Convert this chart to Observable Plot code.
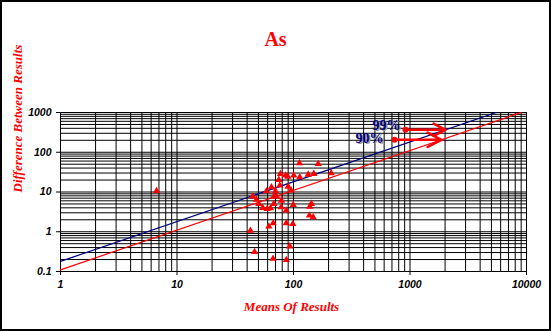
<!DOCTYPE html>
<html>
<head>
<meta charset="utf-8">
<script src="https://cdn.jsdelivr.net/npm/d3@7"></script>
<script src="https://cdn.jsdelivr.net/npm/@observablehq/plot@0.6"></script>
<style>
  html, body { margin: 0; padding: 0; background: #fff; }
  #wrap { position: relative; width: 551px; height: 331px; overflow: hidden; }
  #border { position: absolute; left: 0; top: 0; width: 547px; height: 327px; border: 2px solid #000; pointer-events: none; }
  #wrap svg { position: absolute; left: 0; top: 0; }
</style>
</head>
<body>
<div id="wrap"><div id="border"></div></div>
<script>
// ---- data ----
const chartTitle = "As";
const xTitle = "Means Of Results";
const yTitle = "Difference Between Results";

const xTicks = [1, 10, 100, 1000, 10000];
const xTickLabels = ["1", "10", "100", "1000", "10000"];
const yTicks = [0.1, 1, 10, 100, 1000];
const yTickLabels = ["0.1", "1", "10", "100", "1000"];

// duplicate pairs: mean of results vs difference between results
const means = [77.3, 85.4, 89.4, 100.6, 74.8, 76.3, 90.0, 64.7, 58.6, 70.0,
               95.5, 44.7, 67.7, 71.5, 48.1, 78.9, 50.4, 67.7, 99.4, 54.5,
               59.5, 63.5, 78.4, 86.6, 66.9, 61.4, 86.6, 42.7, 93.0, 46.3,
               66.7, 86.7, 112.6, 163, 113.3, 133.7, 149.4, 210.7, 142.8, 138,
               137, 147.6, 98.6, 6.67];
const diffs = [28.7, 26.0, 24.5, 26.0, 20.3, 14.6, 13.7, 13.2, 10.5, 10.5,
               10.9, 7.7, 7.7, 7.7, 6.4, 6.1, 5.05, 5.05, 4.77, 4.0,
               3.78, 3.9, 4.15, 3.43, 1.64, 1.36, 1.64, 1.07, 0.43, 0.31,
               0.21, 0.195, 53, 50.6, 23.6, 27.5, 28.7, 29.7, 5.05, 4.3,
               2.56, 2.32, 1.58, 10.6];

// percentile lines (endpoints)
const line90X = [1, 9000];
const line90Y = [0.11, 1000];
const line99X = [1, 5500];
const line99Y = [0.18, 1000];

// annotations
const bandLabels = ["99%", "90%"];
const bandColors = ["#000080", "#000080"];
const labelX = [629, 449];
const labelY = [471, 222];
const arrowX1 = [915, 736];
const arrowY = [367, 206];
const arrowX2 = [2018, 1863];

// ---- build ----
const points = means.map((m, i) => ({mean: m, diff: diffs[i]}));
const decadesX = [1, 10, 100, 1000];
const gridXs = decadesX.flatMap(d => d3.range(1, 10).map(k => k * d)).concat([10000]);
const decadesY = [0.1, 1, 10, 100];
const gridYs = decadesY.flatMap(d => d3.range(1, 10).map(k => +(k * d).toPrecision(3))).concat([1000]);
const idx = bandLabels.map((_, i) => i);
const serif = "'Liberation Serif', 'Times New Roman', serif";

const chart = Plot.plot({
  width: 551,
  height: 331,
  marginLeft: 60,
  marginRight: 25,
  marginTop: 112,
  marginBottom: 60,
  style: {background: "transparent", fontFamily: "'Liberation Sans', Arial, sans-serif", fontSize: "10.5px", fontWeight: "bold", fontStyle: "italic", color: "#000"},
  x: {type: "log", domain: [1, 10000]},
  y: {type: "log", domain: [0.1, 1000]},
  marks: [
    Plot.ruleX(gridXs, {x: d => d, stroke: "#000", strokeWidth: 1}),
    Plot.ruleY(gridYs, {y: d => d, stroke: "#000", strokeWidth: 1}),
    Plot.axisX({ticks: xTicks, tickFormat: (d) => xTickLabels[xTicks.indexOf(d)], tickSize: 4, tickPadding: 5, label: null, fontWeight: "bold", fontStyle: "italic", fontSize: 10.5}),
    Plot.axisY({ticks: yTicks, tickFormat: (d) => yTickLabels[yTicks.indexOf(d)], tickSize: 4, tickPadding: 5, label: null, fontWeight: "bold", fontStyle: "italic", fontSize: 10.5}),
    Plot.line(line99X.map((x, i) => ({x, y: line99Y[i]})), {x: "x", y: "y", stroke: "#000080", strokeWidth: 1.2, clip: true}),
    Plot.line(line90X.map((x, i) => ({x, y: line90Y[i]})), {x: "x", y: "y", stroke: "#ff0000", strokeWidth: 1.2, clip: true}),
    Plot.dot(points, {x: "mean", y: "diff", symbol: "triangle", r: 2.7, fill: "#ff0000", stroke: "none"}),
    // annotation labels with shadow
    Plot.text(idx, {x: i => labelX[i], y: i => labelY[i], text: i => bandLabels[i], dx: 1.5, dy: 1.5, fill: "#999", fontFamily: serif, fontSize: 14, fontWeight: "bold", fontStyle: "normal"}),
    Plot.text(idx, {x: i => labelX[i], y: i => labelY[i], text: i => bandLabels[i], fill: i => bandColors[i], fontFamily: serif, fontSize: 14, fontWeight: "bold", fontStyle: "normal"}),
    Plot.arrow(idx, {x1: i => arrowX1[i], y1: i => arrowY[i], x2: i => arrowX2[i], y2: i => arrowY[i], stroke: "#ff0000", strokeWidth: 2.5, headLength: 10, headAngle: 55}),
    Plot.dot(idx, {x: i => arrowX1[i], y: i => arrowY[i], r: 3, fill: "#ff0000", stroke: "none"}),
    // titles
    Plot.text([chartTitle], {frameAnchor: "top", dx: -18, dy: -81, fill: "#ff0000", fontFamily: serif, fontSize: 20, fontWeight: "bold", fontStyle: "normal"}),
    Plot.text([xTitle], {frameAnchor: "bottom", dx: -2, dy: 39, fill: "#ff0000", fontFamily: serif, fontSize: 13, fontWeight: "bold", fontStyle: "italic"}),
    Plot.text([yTitle], {frameAnchor: "left", dx: -43, dy: 0.5, rotate: -90, fill: "#ff0000", fontFamily: serif, fontSize: 13, fontWeight: "bold", fontStyle: "italic"})
  ]
});
document.getElementById("wrap").insertBefore(chart, document.getElementById("border"));
</script>
</body>
</html>
